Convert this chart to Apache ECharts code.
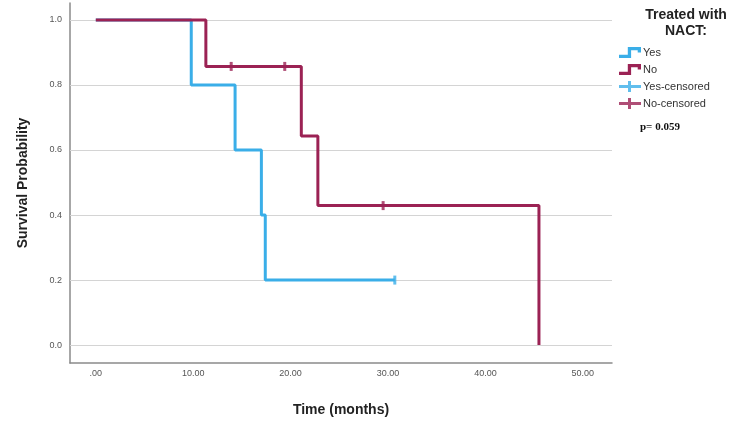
<!DOCTYPE html>
<html>
<head>
<meta charset="utf-8">
<script src="https://cdn.jsdelivr.net/npm/echarts@6/dist/echarts.min.js"></script>
<style>
  html, body { margin: 0; padding: 0; background: #fff; }
  #km_chart { width: 750px; height: 439px; }
</style>
</head>
<body>
<div id="km_chart"></div>
<script>
// survival steps: [months, probability]
var yesSteps = [[0, 1], [9.8, 0.8], [14.3, 0.6], [17.0, 0.4], [17.4, 0.2], [30.7, 0.2]];
var noSteps = [[0, 1], [11.3, 0.857], [21.1, 0.643], [22.8, 0.429], [45.5, 0.429], [45.5, 0]];
var yesCensored = [[30.7, 0.2]];
var noCensored = [[13.9, 0.857], [19.4, 0.857], [29.5, 0.429]];
var xTicks = [0, 10, 20, 30, 40, 50];
var yTicks = [0, 0.2, 0.4, 0.6, 0.8, 1.0];

var blue = '#3aaee8';
var red = '#9b2254';
var stepIcon = 'path://M0,7 L8,7 L8,0 L20,0 L20,5 L17,5 L17,3 L11,3 L11,10 L0,10 Z';
var crossIcon = 'path://M0,4 L9,4 L9,0 L12,0 L12,4 L22,4 L22,7 L12,7 L12,11 L9,11 L9,7 L0,7 Z';
var tickMark = 'path://M0,0 L2,0 L2,8 L0,8 Z';

var myChart = echarts.init(document.getElementById('km_chart'));

var option = {
    backgroundColor: '#fff',
    animation: false,
    textStyle: { fontFamily: 'Liberation Sans, Arial, sans-serif' },
    title: [{
        text: 'Treated with\nNACT:',
        left: 681,
        top: 2,
        textAlign: 'center',
        textStyle: { fontSize: 14, fontWeight: 'bold', color: '#222', lineHeight: 16, align: 'center' }
    }, {
        text: 'p= 0.059',
        left: 635,
        top: 117,
        textStyle: { fontSize: 11, fontWeight: 'bold', color: '#111', fontFamily: 'Liberation Serif, serif' }
    }],
    legend: {
        orient: 'vertical',
        left: 614,
        top: 42,
        itemWidth: 24,
        itemHeight: 11,
        itemGap: 6,
        selectedMode: false,
        textStyle: { fontSize: 11, color: '#333', padding: [0, 0, 0, -4] },
        data: [
            { name: 'Yes', icon: stepIcon },
            { name: 'No', icon: stepIcon },
            { name: 'Yes-censored', icon: crossIcon },
            { name: 'No-censored', icon: crossIcon }
        ]
    },
    grid: { left: 70, right: 138, top: 3, bottom: 76 },
    xAxis: {
        type: 'value',
        min: -2.65,
        max: 53,
        name: 'Time (months)',
        nameLocation: 'middle',
        nameGap: 40,
        nameTextStyle: { fontSize: 14, fontWeight: 'bold', color: '#222' },
        axisLine: { onZero: false, lineStyle: { color: '#8a8a8a', width: 1.5 } },
        axisTick: { show: false },
        splitLine: { show: false },
        axisLabel: {
            customValues: xTicks,
            margin: 6,
            fontSize: 9,
            color: '#555',
            formatter: function (v) { return v === 0 ? '.00' : v.toFixed(2); }
        }
    },
    yAxis: {
        type: 'value',
        min: -0.055,
        max: 1.052,
        name: 'Survival Probability',
        nameLocation: 'middle',
        nameGap: 40,
        nameTextStyle: { fontSize: 14, fontWeight: 'bold', color: '#222' },
        axisLine: { show: true, onZero: false, lineStyle: { color: '#8a8a8a', width: 1.5 } },
        axisTick: { show: false },
        splitLine: { show: false },
        axisLabel: {
            customValues: yTicks,
            margin: 8,
            fontSize: 9,
            color: '#555',
            formatter: function (v) { return v.toFixed(1); }
        }
    },
    series: [{
        name: 'grid',
        type: 'line',
        data: [],
        z: 1,
        silent: true,
        markLine: {
            silent: true,
            z: 1,
            symbol: 'none',
            label: { show: false },
            lineStyle: { color: '#d4d4d4', width: 1, type: 'solid' },
            data: yTicks.map(function (v) { return { yAxis: v }; })
        }
    }, {
        name: 'Yes',
        type: 'line',
        step: 'end',
        data: yesSteps,
        showSymbol: false,
        z: 3,
        color: blue,
        lineStyle: { color: blue, width: 3 }
    }, {
        name: 'No',
        type: 'line',
        step: 'end',
        data: noSteps,
        showSymbol: false,
        z: 4,
        color: red,
        lineStyle: { color: red, width: 3 }
    }, {
        name: 'Yes-censored',
        type: 'scatter',
        data: yesCensored,
        symbol: tickMark,
        symbolSize: [3, 9],
        z: 5,
        color: blue
    }, {
        name: 'No-censored',
        type: 'scatter',
        data: noCensored,
        symbol: tickMark,
        symbolSize: [3, 9],
        z: 5,
        color: red
    }]
};

myChart.setOption(option, true);
</script>
</body>
</html>
